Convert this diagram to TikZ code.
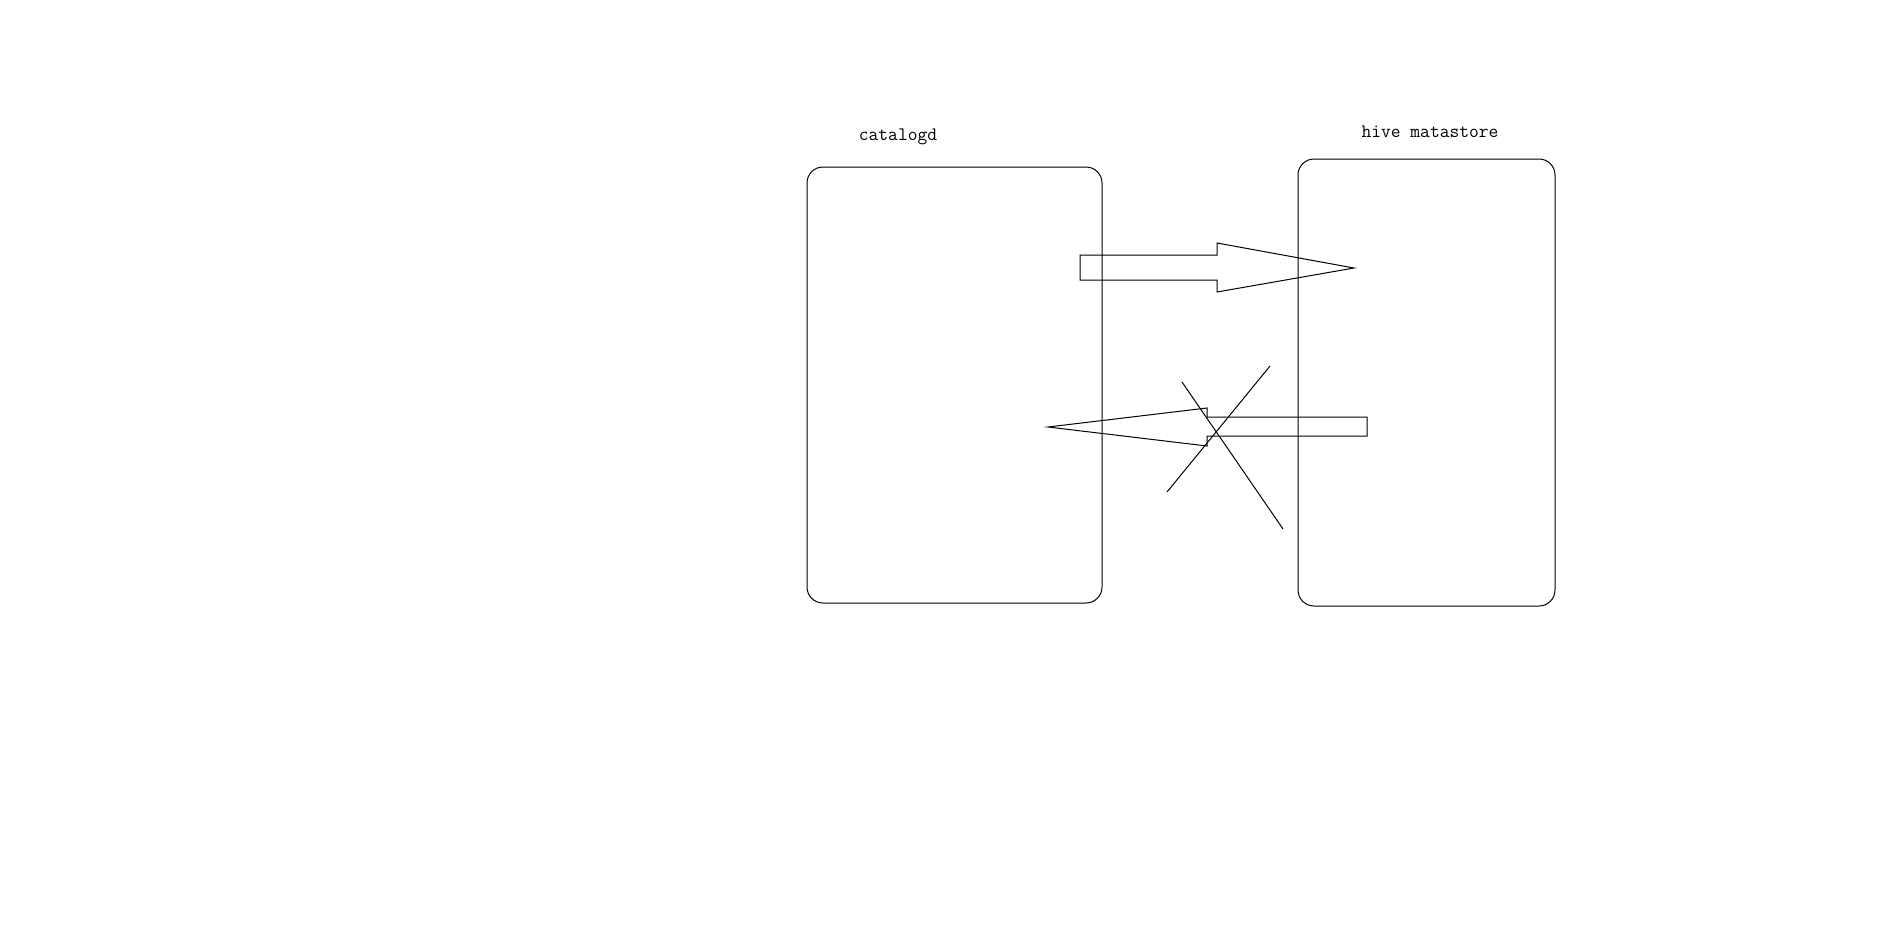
\documentclass[tikz,border=0pt]{standalone}
\usepackage{tikz}
\usetikzlibrary{positioning}

\begin{document}
\begin{tikzpicture}[x=1pt, y=-1pt, line width=1pt,
    boxes/.style={draw, rounded corners=16pt, inner sep=0pt},
    names/.style={font=\ttfamily\fontsize{19}{22}\selectfont, inner sep=0pt}]

        \useasboundingbox (0,0) rectangle (1893,932);

        \node[boxes, minimum width=295pt, minimum height=436pt] (catalogd) at (954.5,385) {};
        \node[boxes, minimum width=257pt, minimum height=447pt] (hms) at (1426.5,382.5) {};
        \node[names] (l1) at (898,137) {catalogd};
        \node[names] (l2) at (1430,132) {hive matastore};

        % block arrows
        \draw (1080,255) -- (1217,255) -- (1217,243) -- (1354,268) -- (1217,292)
            -- (1217,280) -- (1080,280) -- cycle;
        \draw (1367,417) -- (1207,417) -- (1207,408) -- (1048,427) -- (1207,446)
            -- (1207,436) -- (1367,436) -- cycle;

        % cross
        \coordinate (p) at (1182,382);
        \coordinate (q) at (1283,529);
        \coordinate (r) at (1167,492);
        \coordinate (s) at (1270,366);
        \foreach \from/\to in {p/q,r/s} \draw (\from)--(\to);
        \end{tikzpicture}
\end{document}
